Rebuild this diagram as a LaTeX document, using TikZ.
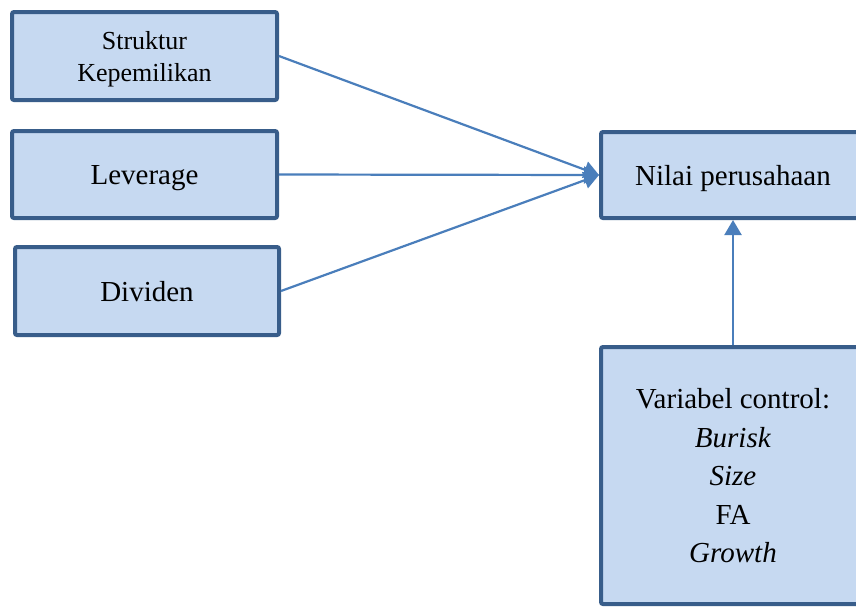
\documentclass[tikz,border=0pt]{standalone}
\usepackage{fontspec}
\setmainfont{Liberation Serif}
\usetikzlibrary{arrows.meta}
\definecolor{boxline}{HTML}{385D8A}
\definecolor{boxfill}{HTML}{C6D9F1}
\definecolor{linkblue}{HTML}{4A7EBB}
\begin{document}
\begin{tikzpicture}[
    x=1pt, y=-1pt,
    var/.style={rectangle, draw=boxline, fill=boxfill, line width=4pt, rounded corners=2pt, align=center, inner sep=2pt, text depth=0pt, font=\fontsize{29}{38.5}\selectfont},
    var_small/.style={var, font=\fontsize{26}{32}\selectfont},
    link/.style={draw=linkblue, line width=2.2pt, -{Triangle[length=15pt,width=17pt]}} % Stile per le frecce
]
\useasboundingbox (0,0) rectangle (856,606);
\clip (0,0) rectangle (856,606);
\node[var_small, minimum width=265pt, minimum height=88pt] (struktur) at (144.5,56) {Struktur\\Kepemilikan};
\node[var, minimum width=265pt, minimum height=87pt] (leverage) at (144.5,174.5) {Leverage};
\node[var, minimum width=264pt, minimum height=88pt] (dividen) at (147,291) {Dividen};
\node[var, minimum width=264pt, minimum height=86pt] (nilai) at (733,175) {Nilai perusahaan};
\node[var, minimum width=264pt, minimum height=257pt] (control) at (733,475.5)
    {Variabel control:\\\textit{Burisk}\\\textit{Size}\\FA\\\textit{Growth}};
\draw[link] (struktur.east) -- (nilai.west);
\draw[link] (leverage.east) -- (nilai.west);
\draw[link] (dividen.east) -- (nilai.west);
\draw[link] (control.north) -- (nilai.south);
\end{tikzpicture}
\end{document}
